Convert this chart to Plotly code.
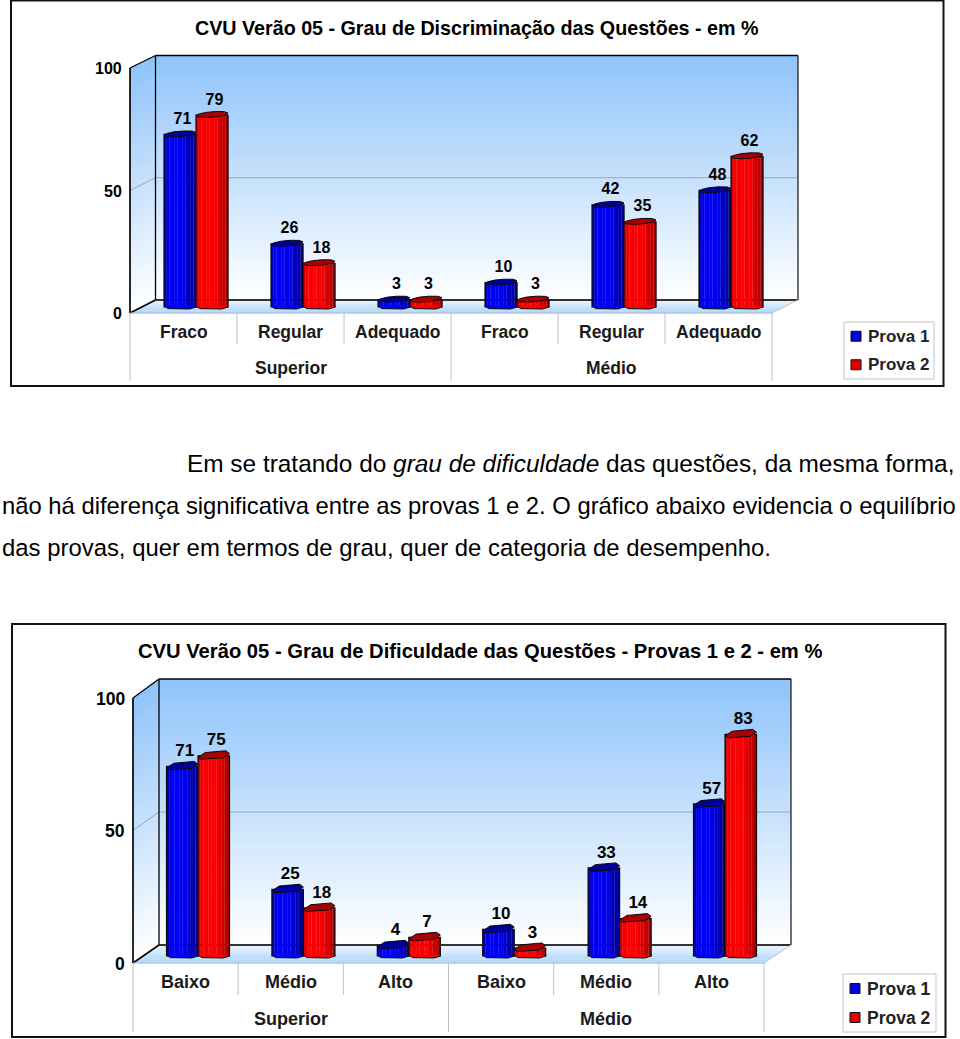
import plotly.graph_objects as go

W, H = 960, 1039
FONT = "Liberation Sans"

# ---------- data ----------
c1_title = "CVU Verão 05 - Grau de Discriminação das Questões - em %"
c1_categories = ["Fraco", "Regular", "Adequado", "Fraco", "Regular", "Adequado"]
c1_groups = ["Superior", "Médio"]
c1_prova1 = [71, 26, 3, 10, 42, 48]
c1_prova2 = [79, 18, 3, 3, 35, 62]

c2_title = "CVU Verão 05 - Grau de Dificuldade das Questões - Provas 1 e 2 - em %"
c2_categories = ["Baixo", "Médio", "Alto", "Baixo", "Médio", "Alto"]
c2_groups = ["Superior", "Médio"]
c2_prova1 = [71, 25, 4, 10, 33, 57]
c2_prova2 = [75, 18, 7, 3, 14, 83]

series_names = ["Prova 1", "Prova 2"]
y_ticks = [0, 50, 100]

para_lines = [
    "Em se tratando do <i>grau de dificuldade</i> das questões, da mesma forma,",
    "não há diferença significativa entre as provas 1 e 2. O gráfico abaixo evidencia o equilíbrio",
    "das provas, quer em termos de grau, quer de categoria de desempenho.",
]

# ---------- layout geometry (pixels of the page) ----------
CHART1 = dict(
    box=(11, 0.5, 943.5, 386), title=c1_title, title_xy=(477, 28), title_size=19.7,
    front=(130, 772, 68, 313), back=(155.5, 798, 55.5, 300),
    bar_y0=307, bar_scale=2.43, bar_first=196, pitch=107, bar_w=32,
    cat_y=332, grp_y=368, short_y=344, long_y=381,
    legend=(844, 322, 934, 379), cats=c1_categories, groups=c1_groups,
    p1=c1_prova1, p2=c1_prova2, cap="round", axis=("x", "y"), label_up=6.5,
    tick_size=16, val_size=16, cat_size=17.5, leg_size=17,
)
CHART2 = dict(
    box=(12, 624, 945.5, 1037), title=c2_title, title_xy=(480, 651), title_size=20.2,
    front=(133, 764, 698, 963), back=(159, 791, 679, 945),
    bar_y0=956, bar_scale=2.67, bar_first=198, pitch=105.4, bar_w=31.5,
    cat_y=982, grp_y=1019, short_y=995, long_y=1032,
    legend=(843, 974, 936, 1032), cats=c2_categories, groups=c2_groups,
    p1=c2_prova1, p2=c2_prova2, cap="poly", axis=("x2", "y2"), label_up=6,
    tick_size=17.5, val_size=17, cat_size=18, leg_size=17.5,
)

BLUE_BANDS = [(0, 0, 190), (0, 0, 225), (0, 0, 255), (0, 0, 235), (0, 0, 255), (0, 0, 235),
              (0, 0, 250), (0, 0, 225), (0, 0, 205), (0, 0, 185), (0, 0, 165), (0, 0, 150)]
RED_BANDS = [(215, 0, 0), (240, 0, 0), (255, 0, 0), (245, 0, 0), (255, 0, 0), (245, 0, 0),
             (255, 0, 0), (240, 0, 0), (225, 0, 0), (205, 0, 0), (190, 0, 0), (170, 0, 0)]
CAP_COLORS = ["rgb(0,0,150)", "rgb(170,0,0)"]
ROUND_CAP = [(-.5, -.6), (-.42, .9), (-.2, 2.6), (.1, 3.5), (.38, 3.4), (.5, 2.0),
             (.42, .2), (.15, -1.6), (-.15, -2.4), (-.42, -2.0)]
POLY_CAP = [(-.5, -1.6), (-.27, 3.2), (.38, 5.0), (.5, 2.2), (.3, -2.0), (-.4, -3.5)]
BOTTOM_CAP = [(-.5, 1), (-.38, -1.6), (.3, -2.0), (.5, 0), (.5, 1)]


def px(x):
    return x / W


def py(y):
    return 1 - y / H


def mix(top, bottom, t):
    return "rgb(%d,%d,%d)" % tuple(round(a + (b - a) * t) for a, b in zip(top, bottom))


fig = go.Figure()
shapes, annotations = [], []
WALL_TOP = (143, 195, 250)
FLOOR_BACK = (236, 245, 254)
FLOOR_FRONT = (170, 212, 250)


def line(x0, y0, x1, y1, color="#000", width=1.5):
    shapes.append(dict(type="line", xref="paper", yref="paper", x0=px(x0), y0=py(y0),
                       x1=px(x1), y1=py(y1), line=dict(color=color, width=width), layer="below"))


def text(x, y, s, size=16, anchor="center", color="#000", bold=True):
    annotations.append(dict(xref="paper", yref="paper", x=px(x), y=py(y), text=f"<b>{s}</b>" if bold else s,
                            showarrow=False, xanchor=anchor, yanchor="middle",
                            font=dict(family=FONT, size=size, color=color)))


def draw_frame(c):
    fx0, fx1, fy0, fy1 = c["front"]
    bx0, bx1, by0, by1 = c["back"]
    x0, y0, x1, y1 = c["box"]
    shapes.append(dict(type="rect", xref="paper", yref="paper", x0=px(x0), x1=px(x1), y0=py(y1), y1=py(y0),
                       line=dict(color="#111", width=2), fillcolor="white", layer="below"))
    n = 48
    for i in range(n):
        a, b = i / n, (i + 1) / n
        col = mix(WALL_TOP, (255, 255, 255), (a + b) / 2)
        ya, yb = by0 + (by1 - by0) * a, by0 + (by1 - by0) * b + .6
        shapes.append(dict(type="rect", xref="paper", yref="paper", x0=px(bx0), x1=px(bx1), y0=py(yb), y1=py(ya),
                           fillcolor=col, line=dict(width=0), layer="below"))
        ya2 = fy0 + (fy1 - fy0) * a
        yb2 = fy0 + (fy1 - fy0) * b + .6
        path = (f"M {px(fx0)} {py(ya2)} L {px(bx0)} {py(ya)} L {px(bx0)} {py(yb)} L {px(fx0)} {py(yb2)} Z")
        shapes.append(dict(type="path", xref="paper", yref="paper", path=path,
                           fillcolor=col, line=dict(width=0), layer="below"))
    n = 10
    for i in range(n):
        a, b = i / n, (i + 1) / n
        col = mix(FLOOR_BACK, FLOOR_FRONT, (a + b) / 2)
        ya, yb = by1 + (fy1 - by1) * a, by1 + (fy1 - by1) * b + .4
        lxa, lxb = bx0 + (fx0 - bx0) * a, bx0 + (fx0 - bx0) * b
        rxa, rxb = bx1 + (fx1 - bx1) * a, bx1 + (fx1 - bx1) * b
        path = (f"M {px(lxa)} {py(ya)} L {px(rxa)} {py(ya)} L {px(rxb)} {py(yb)} L {px(lxb)} {py(yb)} Z")
        shapes.append(dict(type="path", xref="paper", yref="paper", path=path,
                           fillcolor=col, line=dict(width=0), layer="below"))
    # grid at 50
    gy_b, gy_f = (by0 + by1) / 2, (fy0 + fy1) / 2
    line(bx0, gy_b, bx1, gy_b, "#93a7b8", 1)
    line(fx0, gy_f, bx0, gy_b, "#93a7b8", 1)
    # wall outline
    line(bx0, by0, bx1, by0, "#000", 1.3)
    line(bx1, by0, bx1, by1, "#111", 1.2)
    line(bx0, by0, bx0, by1, "#000", 1.3)
    line(fx0, fy0, bx0, by0, "#000", 1.3)
    line(fx0, fy0, fx0, fy1, "#111", 1.8)
    line(bx0, by1, bx1, by1, "#333", 2)
    line(fx0, fy1, bx0, by1, "#000", 1.6)
    line(fx1, fy1, bx1, by1, "#c4c4c4", 1)
    line(fx0, fy1, fx1, fy1, "#b9c0c6", 1.2)
    # ticks + labels
    for t in y_ticks:
        yy = fy1 + (fy0 - fy1) * t / 100
        text(fx0 - 6, yy + .5, str(t), c["tick_size"], "right")
    # table
    step = (fx1 - fx0) / 6
    for i in range(7):
        lx = fx0 + step * i
        bottom = c["long_y"] if i % 3 == 0 else c["short_y"]
        line(lx, fy1, lx, bottom, "#c2c2c2", 1)
    for i, cat in enumerate(c["cats"]):
        text(fx0 + step * (i + .5), c["cat_y"], cat, c["cat_size"], color="#1a1a1a")
    for i, g in enumerate(c["groups"]):
        text(fx0 + step * (3 * i + 1.5), c["grp_y"], g, c["cat_size"], color="#1a1a1a")
    # title
    text(*c["title_xy"], c["title"], c["title_size"], color="#000")
    # legend
    lx0, ly0, lx1, ly1 = c["legend"]
    shapes.append(dict(type="rect", xref="paper", yref="paper", x0=px(lx0), x1=px(lx1), y0=py(ly1), y1=py(ly0),
                       line=dict(color="#c4c4c4", width=1), fillcolor="white", layer="below"))
    row = (ly1 - ly0) / 2
    for i, (name, colr) in enumerate(zip(series_names, ["#0000e6", "#e60000"])):
        yy = ly0 + row * (i + .5)
        shapes.append(dict(type="rect", xref="paper", yref="paper", x0=px(lx0 + 7), x1=px(lx0 + 17),
                           y0=py(yy + 5), y1=py(yy - 5), fillcolor=colr, line=dict(color="#111", width=1), layer="below"))
        text(lx0 + 22, yy, name, c["leg_size"], "left", color="#222")


def draw_bars(c):
    xa, ya = c["axis"]
    pitch, w = c["pitch"], c["bar_w"]
    bw = w / pitch
    scale = c["bar_scale"]
    cats = list(range(6))
    for s, (vals, bands) in enumerate(zip((c["p1"], c["p2"]), (BLUE_BANDS, RED_BANDS))):
        off = -bw + s * bw
        n = len(bands)
        for b, rgb in enumerate(bands):
            fig.add_trace(go.Bar(x=cats, y=vals, offset=off + bw * b / n, width=bw / n + .002,
                                 marker=dict(color="rgb(%d,%d,%d)" % rgb, line=dict(width=0)),
                                 xaxis=xa, yaxis=ya, showlegend=False, hoverinfo="skip",
                                 name=series_names[s]))
        fig.add_trace(go.Bar(x=cats, y=vals, offset=off, width=bw,
                             marker=dict(color="rgba(0,0,0,0)", line=dict(color="#0a0a0a", width=1.2)),
                             xaxis=xa, yaxis=ya, showlegend=False, hoverinfo="skip", name=series_names[s]))
        cap = ROUND_CAP if c["cap"] == "round" else POLY_CAP
        centre = off + bw / 2
        for i, v in zip(cats, vals):
            # top cap
            fig.add_trace(go.Scatter(x=[i + centre + fx * bw for fx, _ in cap] + [i + centre + cap[0][0] * bw],
                                     y=[v + fy / scale for _, fy in cap] + [v + cap[0][1] / scale],
                                     mode="lines", fill="toself", fillcolor=CAP_COLORS[s],
                                     line=dict(color="#0a0a0a", width=1), xaxis=xa, yaxis=ya,
                                     showlegend=False, hoverinfo="skip"))
            # bottom rim
            col = "rgb(%d,%d,%d)" % bands[2]
            fig.add_trace(go.Scatter(x=[i + centre + fx * bw for fx, _ in BOTTOM_CAP],
                                     y=[fy / scale for _, fy in BOTTOM_CAP],
                                     mode="lines", fill="toself", fillcolor=col,
                                     line=dict(color="#0a0a0a", width=1), xaxis=xa, yaxis=ya,
                                     showlegend=False, hoverinfo="skip"))
        # value labels
        fig.add_trace(go.Scatter(x=[i + centre + 2.5 / pitch for i in cats],
                                 y=[v + c["label_up"] / scale for v in vals],
                                 mode="text", text=[f"<b>{v}</b>" for v in vals], textposition="top center",
                                 textfont=dict(family=FONT, size=c["val_size"], color="#000"),
                                 xaxis=xa, yaxis=ya, showlegend=False, hoverinfo="skip"))


def axes(c):
    y_lo, y_hi = -10, 105
    y0, sc = c["bar_y0"], c["bar_scale"]
    first, pitch = c["bar_first"], c["pitch"]
    xdom = [px(first - pitch / 2), px(first + pitch * 5.5)]
    ydom = [py(y0 - y_lo * sc), py(y0 - y_hi * sc)]
    ax = dict(visible=False, range=[-.5, 5.5], domain=xdom, fixedrange=True)
    ay = dict(visible=False, range=[y_lo, y_hi], domain=ydom, fixedrange=True)
    return ax, ay


for chart in (CHART1, CHART2):
    draw_frame(chart)
    draw_bars(chart)

ax1, ay1 = axes(CHART1)
ax2, ay2 = axes(CHART2)

para_y = [464, 505, 547]
para_x = [185, 0, 0]
para_size = [24.4, 23.8, 23.9]
for s, x, y, sz in zip(para_lines, para_x, para_y, para_size):
    text(x, y, s, sz, "left", "#000", bold=False)

fig.update_layout(
    width=W, height=H, autosize=False, margin=dict(l=0, r=0, t=0, b=0, pad=0),
    paper_bgcolor="white", plot_bgcolor="rgba(0,0,0,0)", barmode="overlay", showlegend=False,
    font=dict(family=FONT),
    xaxis=dict(ax1, anchor="y"), yaxis=dict(ay1, anchor="x"),
    xaxis2=dict(ax2, anchor="y2"), yaxis2=dict(ay2, anchor="x2"),
    shapes=shapes, annotations=annotations,
)

fig.write_html("out.html", config={"displayModeBar": False},
               post_script="document.body.style.margin='0';document.body.style.overflow='hidden';")
